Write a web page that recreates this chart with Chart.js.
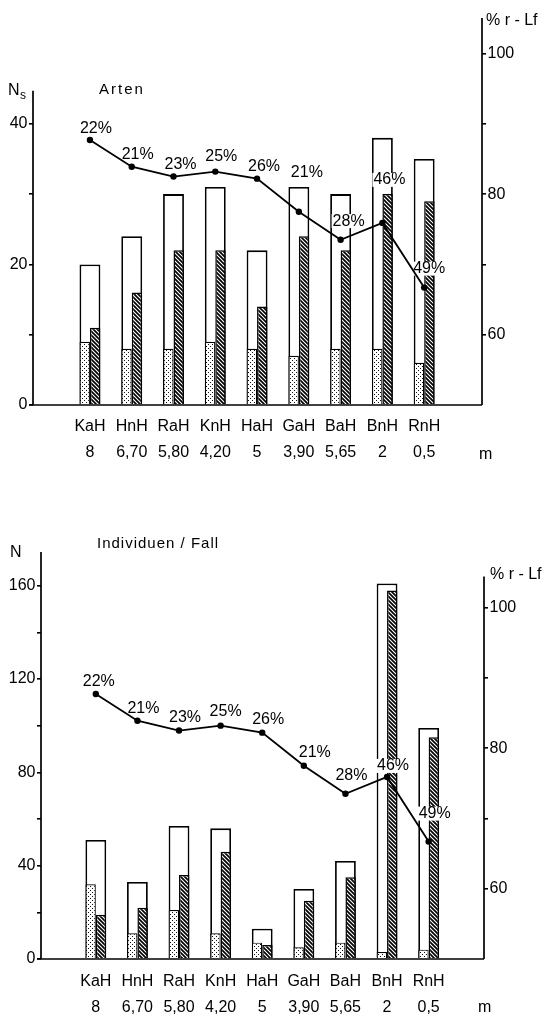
<!DOCTYPE html>
<html>
<head>
<meta charset="utf-8">
<script src="https://cdn.jsdelivr.net/npm/chart.js@4.4.1/dist/chart.umd.min.js"></script>
<style>
    html, body { margin: 0; padding: 0; background: #fff; }
    .box { position: absolute; left: 0; width: 549px; }
    #topBox { top: 0; height: 480px; }
    #botBox { top: 500px; height: 519px; }
</style>
</head>
<body>
<div class="box" id="topBox"><canvas id="artenChart"></canvas></div>
<div class="box" id="botBox"><canvas id="indivChart"></canvas></div>
<script>
// Data
const sites = ['KaH', 'HnH', 'RaH', 'KnH', 'HaH', 'GaH', 'BaH', 'BnH', 'RnH'];
const heights = ['8', '6,70', '5,80', '4,20', '5', '3,90', '5,65', '2', '0,5'];

const artenTotal = [20, 24, 30, 31, 22, 31, 30, 38, 35];
const artenDotted = [9, 8, 8, 9, 8, 7, 8, 8, 6];
const artenHatched = [11, 16, 22, 22, 14, 24, 22, 30, 29];

const indivTotal = [51, 33, 57, 56, 13, 30, 42, 161, 99];
const indivDotted = [32, 11, 21, 11, 7, 5, 7, 3, 4];
const indivHatched = [19, 22, 36, 46, 6, 25, 35, 158, 95];

// % r-Lf line and the share labels written next to its points
const rLf = [87.7, 83.9, 82.5, 83.2, 82.2, 77.5, 73.5, 75.9, 66.7];
const shareLabels = ['22%', '21%', '23%', '25%', '26%', '21%', '28%', '46%', '49%'];

const artenTicks = [0, 10, 20, 30, 40];
const artenTickLabels = ['0', '', '20', '', '40'];
const indivTicks = [0, 20, 40, 60, 80, 100, 120, 140, 160];
const indivTickLabels = ['0', '', '40', '', '80', '', '120', '', '160'];
const rLfTicks = [60, 70, 80, 90, 100];
const rLfTickLabels = ['60', '', '80', '', '100'];

const FONT = '"Liberation Sans", Arial, sans-serif';

function xy(values) {
    return values.map((v, i) => ({ x: i, y: v }));
}

function makePatterns(ctx) {
    const dot = document.createElement('canvas');
    dot.width = 4; dot.height = 4;
    let g = dot.getContext('2d');
    g.fillStyle = '#fff'; g.fillRect(0, 0, 4, 4);
    g.fillStyle = '#111';
    g.fillRect(0, 0, 1, 1);
    g.fillRect(2, 2, 1, 1);

    const hatch = document.createElement('canvas');
    hatch.width = 4; hatch.height = 4;
    g = hatch.getContext('2d');
    g.fillStyle = '#fff'; g.fillRect(0, 0, 4, 4);
    g.strokeStyle = '#000'; g.lineWidth = 1.7;
    g.beginPath();
    g.moveTo(-1, -1); g.lineTo(5, 5);
    g.moveTo(-1, 3); g.lineTo(1, 5);
    g.moveTo(3, -1); g.lineTo(5, 1);
    g.stroke();

    return { dots: ctx.createPattern(dot, 'repeat'), hatch: ctx.createPattern(hatch, 'repeat') };
}

// axis lines, titles and the % labels
const decor = {
    id: 'decor',
    beforeDatasetsDraw(chart, args, o) {
        const { ctx, chartArea: a, scales: { y, y2 } } = chart;
        ctx.save();
        ctx.strokeStyle = '#000';
        ctx.lineWidth = 1.7;
        ctx.beginPath();
        ctx.moveTo(a.left, y.getPixelForValue(0));
        ctx.lineTo(a.left, y.getPixelForValue(o.leftTop));
        ctx.moveTo(a.right, y2.getPixelForValue(50));
        ctx.lineTo(a.right, y2.getPixelForValue(o.rightTop));
        ctx.stroke();
        ctx.restore();
    },
    beforeDatasetDraw(chart, args, o) {
        // white patches behind the labels, over the bars
        if (args.index !== 0) return;
        const ctx = chart.ctx;
        const pts = chart.getDatasetMeta(0).data;
        ctx.save();
        ctx.font = '16px ' + FONT;
        ctx.fillStyle = '#fff';
        pts.forEach((p, i) => {
            const w = ctx.measureText(shareLabels[i]).width;
            ctx.fillRect(p.x + o.dx[i] - w / 2 - 1, p.y + o.dy[i] - 7, w + 2, 14);
        });
        ctx.restore();
    },
    afterDatasetsDraw(chart, args, o) {
        const { ctx, chartArea: a, scales: { y } } = chart;
        ctx.save();
        ctx.strokeStyle = '#000';
        ctx.lineWidth = 1.7;
        ctx.beginPath();
        ctx.moveTo(a.left - 4, y.getPixelForValue(0));
        ctx.lineTo(a.right, y.getPixelForValue(0));
        ctx.stroke();

        ctx.fillStyle = '#000';
        ctx.textBaseline = 'middle';
        ctx.textAlign = 'center';
        ctx.font = '16px ' + FONT;
        chart.getDatasetMeta(0).data.forEach((p, i) => {
            ctx.fillText(shareLabels[i], p.x + o.dx[i], p.y + o.dy[i]);
        });

        ctx.textBaseline = 'alphabetic';
        ctx.textAlign = 'left';
        o.texts.forEach(t => {
            ctx.font = t.size + 'px ' + FONT;
            ctx.letterSpacing = (t.spacing || 0) + 'px';
            ctx.fillText(t.text, t.x, t.y);
        });
        ctx.letterSpacing = '0px';
        ctx.restore();
    }
};

function makeChart(canvasId, o) {
    const ctx = document.getElementById(canvasId).getContext('2d');
    const pat = makePatterns(ctx);
    const tickFont = { family: FONT, size: 16 };

    return new Chart(ctx, {
        type: 'bar',
        data: {
            datasets: [
                {
                    type: 'line',
                    data: xy(rLf),
                    yAxisID: 'y2',
                    borderColor: '#000',
                    borderWidth: 1.8,
                    pointRadius: 3.2,
                    pointBackgroundColor: '#000',
                    pointBorderWidth: 0,
                    tension: 0,
                    order: 0
                },
                {
                    data: xy(o.dotted),
                    yAxisID: 'y',
                    stack: 'a',
                    backgroundColor: pat.dots,
                    borderColor: '#000',
                    borderWidth: 1.2,
                    categoryPercentage: 0.5,
                    barPercentage: 1,
                    order: 1
                },
                {
                    data: xy(o.hatched),
                    yAxisID: 'y',
                    stack: 'b',
                    backgroundColor: pat.hatch,
                    borderColor: '#000',
                    borderWidth: 1.5,
                    categoryPercentage: 0.5,
                    barPercentage: 1,
                    order: 1
                },
                {
                    data: xy(o.total),
                    yAxisID: 'y',
                    grouped: false,
                    backgroundColor: '#fff',
                    borderColor: '#000',
                    borderWidth: 1.8,
                    categoryPercentage: 0.5,
                    barPercentage: 1,
                    order: 2
                }
            ]
        },
        options: {
            responsive: true,
            maintainAspectRatio: false,
            animation: false,
            layout: { padding: { top: o.top, left: 0, right: 0, bottom: 0 } },
            plugins: {
                legend: { display: false },
                tooltip: { enabled: false },
                decor: o.decor
            },
            scales: {
                x: {
                    type: 'linear',
                    bounds: 'data',
                    min: o.xMin,
                    max: o.xMax,
                    afterBuildTicks: s => { s.ticks = sites.map((_, i) => ({ value: i })); },
                    afterFit: s => { s.height = o.xHeight; },
                    grid: { display: false, drawTicks: false },
                    border: { display: false },
                    ticks: {
                        autoSkip: false,
                        maxRotation: 0,
                        padding: o.xPad,
                        color: '#000',
                        font: { family: FONT, size: 16, lineHeight: o.xLine },
                        callback: v => [sites[v], heights[v]]
                    }
                },
                y: {
                    position: 'left',
                    bounds: 'data',
                    min: 0,
                    max: o.yMax,
                    afterBuildTicks: s => { s.ticks = o.yTicks.map(v => ({ value: v })); },
                    afterFit: s => { s.width = o.left; },
                    grid: { drawOnChartArea: false, tickLength: 4, color: '#000', lineWidth: 1.6 },
                    border: { display: false },
                    ticks: { padding: 1.5, color: '#000', font: tickFont, callback: (v, i) => o.yLabels[i] }
                },
                y2: {
                    position: 'right',
                    bounds: 'data',
                    min: 50,
                    max: o.y2Max,
                    afterBuildTicks: s => { s.ticks = rLfTicks.map(v => ({ value: v })); },
                    afterFit: s => { s.width = 549 - o.right; },
                    grid: { drawOnChartArea: false, tickLength: 4, color: '#000', lineWidth: 1.6 },
                    border: { display: false },
                    ticks: { padding: 1.5, color: '#000', font: tickFont, callback: (v, i) => rLfTickLabels[i] }
                }
            }
        },
        plugins: [decor]
    });
}

document.addEventListener('DOMContentLoaded', function() {
    // Arten (species)
    makeChart('artenChart', {
        total: artenTotal, dotted: artenDotted, hatched: artenHatched,
        yTicks: artenTicks, yLabels: artenTickLabels,
        top: 18, left: 33, right: 482, xHeight: 75, xPad: 8.5, xLine: 1.63,
        xMin: -0.766, xMax: 8.787, yMax: 55.05, y2Max: 105.05,
        decor: {
            leftTop: 44.7, rightTop: 105.05,
            dx: [6, 6, 7, 6, 7, 8, 8, 7, 5],
            dy: [-11, -12, -12, -15, -12.5, -39.5, -18.7, -43, -19],
            texts: [
                { text: 'N', x: 8, y: 95, size: 16 },
                { text: 's', x: 20, y: 99, size: 12 },
                { text: 'Arten', x: 99, y: 94, size: 15, spacing: 2 },
                { text: '% r - Lf', x: 486, y: 25, size: 16 },
                { text: 'm', x: 479, y: 459, size: 16 }
            ]
        }
    });

    // Individuen / Fall
    makeChart('indivChart', {
        total: indivTotal, dotted: indivDotted, hatched: indivHatched,
        yTicks: indivTicks, yLabels: indivTickLabels,
        top: 52, left: 41, right: 484, xHeight: 60, xPad: 9, xLine: 1.67,
        xMin: -0.726, xMax: 8.739, yMax: 174.45, y2Max: 107.9,
        decor: {
            leftTop: 174.45, rightTop: 104.4,
            dx: [3, 6, 6, 5, 6, 11, 6, 6, 6],
            dy: [-12, -12, -13, -14, -13, -13, -18, -11, -28],
            texts: [
                { text: 'N', x: 10, y: 57, size: 16 },
                { text: 'Individuen / Fall', x: 97, y: 48, size: 15, spacing: 1 },
                { text: '% r - Lf', x: 490, y: 79, size: 16 },
                { text: 'm', x: 478, y: 512, size: 16 }
            ]
        }
    });
});
</script>
</body>
</html>
